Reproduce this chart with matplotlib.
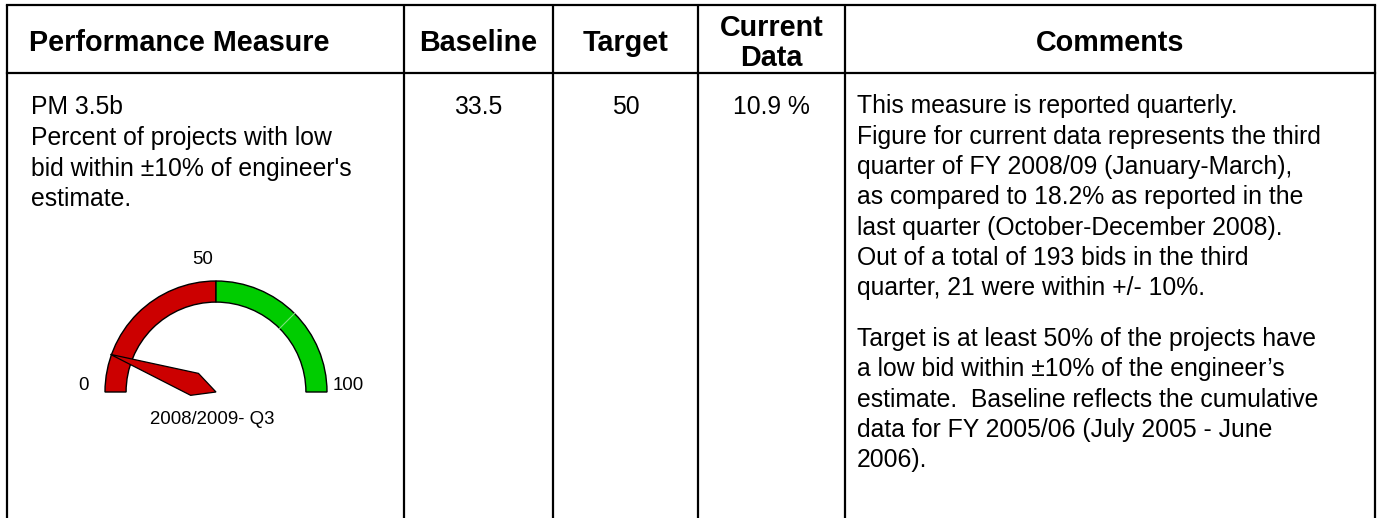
"""
Performance measure table row with a half-circle gauge for the current value.
"""

import matplotlib
matplotlib.use("Agg")
import matplotlib.pyplot as plt
import numpy as np
from matplotlib.patches import Polygon, Wedge

plt.rcParams["font.family"] = ["Liberation Sans", "DejaVu Sans"]

# ---- data -------------------------------------------------------------------
headers = ["Performance Measure", "Baseline", "Target", "Current\nData", "Comments"]

measure_id = "PM 3.5b"
measure_desc = [
    "Percent of projects with low",
    "bid within \u00b110% of engineer's",
    "estimate.",
]
baseline = 33.5
target = 50
current = 10.9
current_label = "10.9 %"

gauge_min, gauge_max = 0, 100
gauge_ticks = [0, 50, 100]
gauge_bands = [(0, 50, "#cc0000"), (50, 100, "#00cc00")]
gauge_period = "2008/2009- Q3"

comments_p1 = [
    "This measure is reported quarterly.",
    "Figure for current data represents the third",
    "quarter of FY 2008/09 (January-March),",
    "as compared to 18.2% as reported in the",
    "last quarter (October-December 2008).",
    "Out of a total of 193 bids in the third",
    "quarter, 21 were within +/- 10%.",
]
comments_p2 = [
    "Target is at least 50% of the projects have",
    "a low bid within \u00b110% of the engineer\u2019s",
    "estimate.  Baseline reflects the cumulative",
    "data for FY 2005/06 (July 2005 - June",
    "2006).",
]

# ---- layout (pixels) --------------------------------------------------------
W, H = 1382, 518
col_edges = [7, 404, 553, 698, 845, 1375]
top_y, head_y = 5, 73
line_lw = 1.6
head_fs = 20.7
body_fs = 17.8
gauge_fs = 13.4
line_step = 30.3
row_y = 113.5


def val_to_angle(v):
    return np.pi * (1 - (v - gauge_min) / (gauge_max - gauge_min))


def draw_table(ax):
    for x in col_edges:
        ax.plot([x, x], [top_y, H], color="black", lw=line_lw, solid_capstyle="butt")
    for y in (top_y, head_y):
        ax.plot([col_edges[0], col_edges[-1]], [y, y], color="black", lw=line_lw,
                solid_capstyle="projecting")

    centers = [(a + b) / 2 for a, b in zip(col_edges[:-1], col_edges[1:])]
    for i, h in enumerate(headers):
        parts = h.split("\n")
        if len(parts) == 1:
            x = 29 if i == 0 else centers[i]
            ax.text(x, 51, h, ha="left" if i == 0 else "center", va="baseline",
                    fontsize=head_fs, fontweight="bold")
        else:
            for j, p in enumerate(parts):
                ax.text(centers[i], 36.5 + 30 * j, p, ha="center", va="baseline",
                        fontsize=head_fs, fontweight="bold")

    ax.text(31, row_y, measure_id, ha="left", va="baseline", fontsize=body_fs)
    for j, line in enumerate(measure_desc):
        ax.text(31, row_y + 32 + line_step * j, line, ha="left", va="baseline",
                fontsize=body_fs)

    ax.text(centers[1], row_y, f"{baseline:g}", ha="center", va="baseline", fontsize=body_fs)
    ax.text(centers[2], row_y, f"{target:g}", ha="center", va="baseline", fontsize=body_fs)
    ax.text(centers[3], row_y, current_label, ha="center", va="baseline", fontsize=body_fs)

    cx = col_edges[4] + 12
    for j, line in enumerate(comments_p1):
        ax.text(cx, row_y + line_step * j, line, ha="left", va="baseline", fontsize=body_fs)
    p2_y = row_y + line_step * (len(comments_p1) - 1) + line_step * 1.67
    for j, line in enumerate(comments_p2):
        ax.text(cx, p2_y + line_step * j, line, ha="left", va="baseline", fontsize=body_fs)


def draw_gauge(fig, center=(216, 392), radius=111):
    gx0, gx1 = center[0] - 140, center[0] + 140
    gy_top, gy_bot = center[1] - 150, center[1] + 50
    gax = fig.add_axes([gx0 / W, (H - gy_bot) / H, (gx1 - gx0) / W, (gy_bot - gy_top) / H])
    gax.set_xlim(-140 / radius, 140 / radius)
    gax.set_ylim(-50 / radius, 150 / radius)
    gax.axis("off")
    gax.patch.set_alpha(0)

    width = 0.19
    for lo, hi, color in gauge_bands:
        t1 = np.degrees(val_to_angle(hi))
        t2 = np.degrees(val_to_angle(lo))
        gax.add_patch(Wedge((0, 0), 1.0, t1, t2, width=width, facecolor=color,
                            edgecolor="black", lw=1.0))

    # faint segment mark inside the green band
    th = val_to_angle(75)
    gax.plot([(1 - width) * np.cos(th), np.cos(th)], [(1 - width) * np.sin(th), np.sin(th)],
             color="#7ee07e", lw=0.8)

    for v in gauge_ticks:
        th = val_to_angle(v)
        x, y = 1.19 * np.cos(th), 1.19 * np.sin(th)
        if abs(np.sin(th)) < 0.5:
            y += 0.06
        else:
            x -= 0.12
        gax.text(x, y, f"{v}", ha="center", va="center", fontsize=gauge_fs)

    th = val_to_angle(current)
    d = np.array([np.cos(th), np.sin(th)])
    p = np.array([-np.sin(th), np.cos(th)])
    pts = [1.01 * d, 0.205 * d + 0.105 * p, np.zeros(2), 0.205 * d - 0.105 * p]
    gax.add_patch(Polygon(pts, closed=True, facecolor="#cc0000", edgecolor="black",
                          lw=0.9, zorder=5))

    gax.text(-0.03, -0.25, gauge_period, ha="center", va="center", fontsize=gauge_fs)


def main() -> None:
    fig = plt.figure(figsize=(W / 100, H / 100), dpi=100)
    ax = fig.add_axes([0, 0, 1, 1])
    ax.set_xlim(0, W)
    ax.set_ylim(H, 0)
    ax.axis("off")

    draw_table(ax)
    draw_gauge(fig)

    fig.savefig("out.png", dpi=100, facecolor="white")
    plt.close(fig)


if __name__ == "__main__":
    main()
